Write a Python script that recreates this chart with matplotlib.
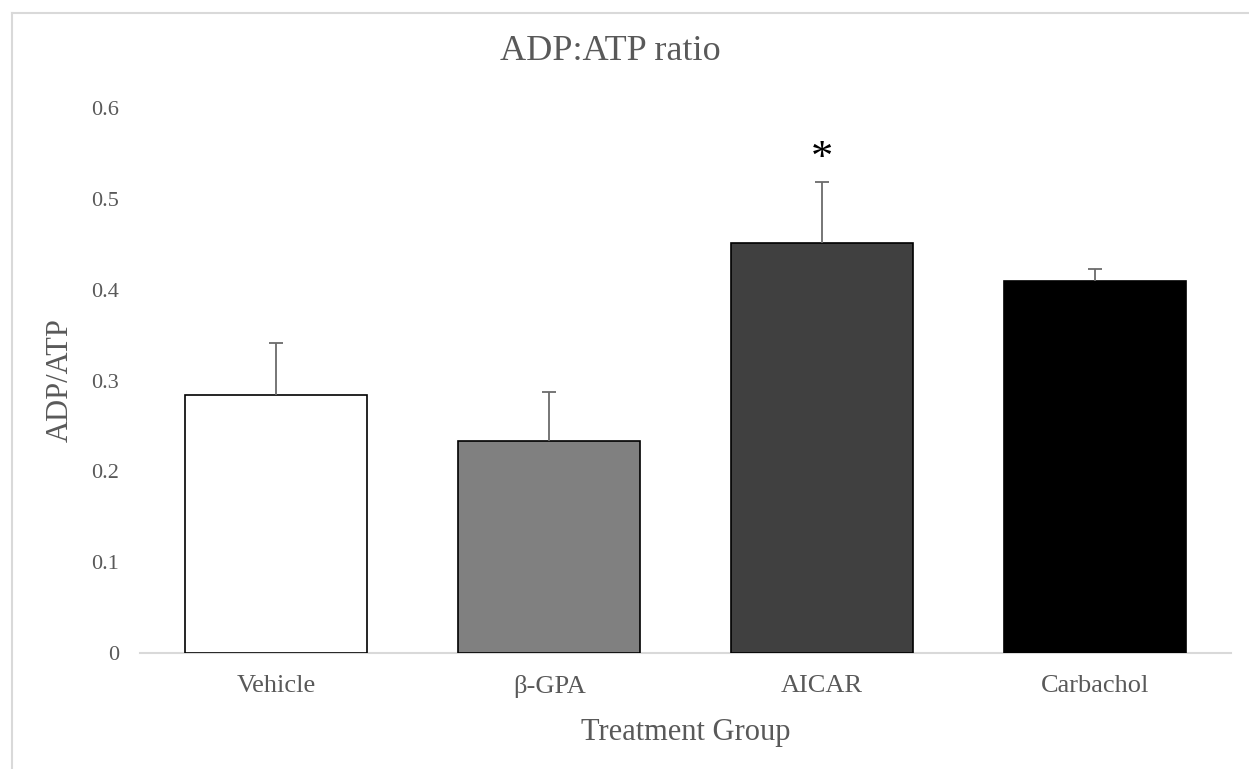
import matplotlib
matplotlib.use("Agg")
import matplotlib.pyplot as plt
from matplotlib.lines import Line2D

# data
groups = ["Vehicle", "\u03b2-GPA", "AICAR", "Carbachol"]
ratio = [0.284, 0.233, 0.451, 0.409]
sem = [0.057, 0.054, 0.068, 0.014]
bar_colors = ["#ffffff", "#808080", "#404040", "#000000"]
significant = [False, False, True, False]
y_ticks = [0, 0.1, 0.2, 0.3, 0.4, 0.5, 0.6]
y_tick_labels = ["0", "0.1", "0.2", "0.3", "0.4", "0.5", "0.6"]

TEXT = "#595959"
plt.rcParams["font.family"] = ["Liberation Serif", "DejaVu Serif"]

fig = plt.figure(figsize=(12.49, 7.69), dpi=100)
ax = fig.add_axes([0.1121, 0.1508, 0.8735, 0.7088])

x = list(range(len(groups)))
ax.bar(x, ratio, width=0.667, color=bar_colors, edgecolor="black",
       linewidth=1.2, zorder=2)
# upper error only: hide the lower cap that sits on the bar top
_, caps, _ = ax.errorbar(x, ratio, yerr=[[0] * len(sem), sem], fmt="none",
                         ecolor="#6b6b6b", elinewidth=1.3, capsize=5,
                         capthick=1.3, zorder=3)
caps[0].set_visible(False)

# significance marker above the error bar
for xi, r, s, sig in zip(x, ratio, sem, significant):
    if sig:
        ax.text(xi, r + s + 0.025, "*", ha="center", va="center",
                fontsize=32, color="black")

ax.set_xlim(-0.5, len(groups) - 0.5)
ax.set_ylim(0, 0.6)
ax.set_yticks(y_ticks)
ax.set_yticklabels(y_tick_labels)
ax.set_xticks(x)
ax.set_xticklabels(groups)
ax.tick_params(axis="y", length=0, pad=15, labelsize=16, labelcolor=TEXT)
ax.tick_params(axis="x", length=0, pad=16, labelsize=19, labelcolor=TEXT)

for side in ["top", "right", "left"]:
    ax.spines[side].set_visible(False)
ax.spines["bottom"].set_color("#d9d9d9")
ax.spines["bottom"].set_linewidth(1.5)
ax.spines["bottom"].set_zorder(1)

ax.set_xlabel("Treatment Group", fontsize=22, color=TEXT, labelpad=14)
ax.set_ylabel("ADP/ATP", fontsize=22, color=TEXT, labelpad=12)

fig.text(610 / 1249, 1 - 52 / 769, "ADP:ATP ratio", ha="center", va="center",
         fontsize=26, color=TEXT)

# chart area border (top and left edges visible in the reference)
fig.add_artist(Line2D([12 / 1249, 1], [1 - 13 / 769, 1 - 13 / 769],
                      transform=fig.transFigure, color="#d9d9d9", linewidth=1.5))
fig.add_artist(Line2D([12 / 1249, 12 / 1249], [0, 1 - 13 / 769],
                      transform=fig.transFigure, color="#d9d9d9", linewidth=1.5))

fig.savefig("out.png", dpi=100)
